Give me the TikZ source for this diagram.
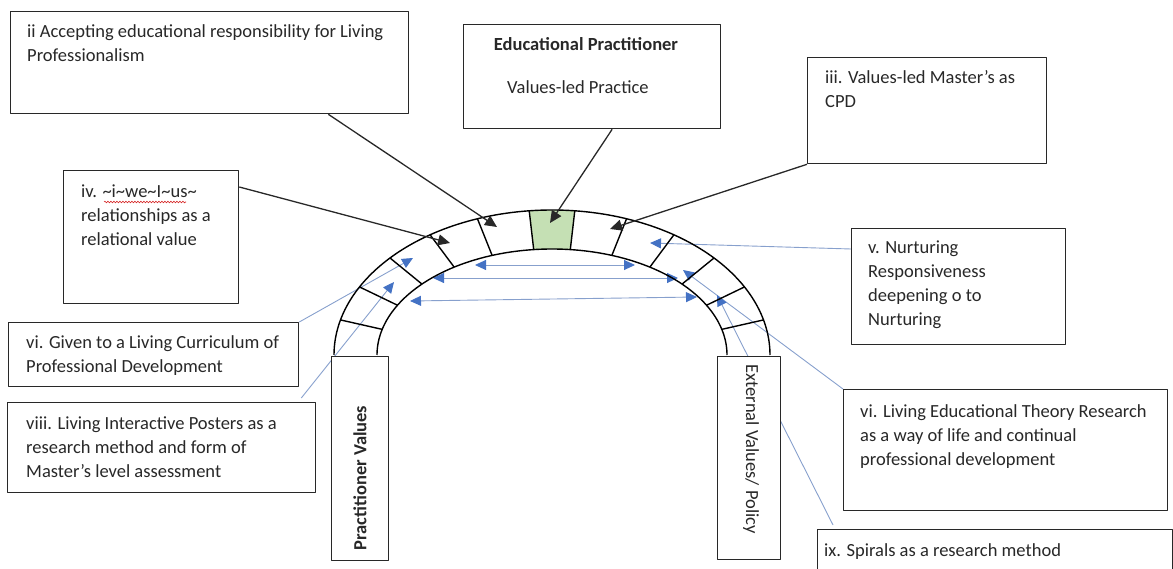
\documentclass[tikz,border=0pt]{standalone}
\usepackage{fontspec}
\setmainfont{Carlito}
\usetikzlibrary{arrows.meta,decorations.pathmorphing}
\definecolor{archgreen}{RGB}{197,224,180}
\definecolor{linkblue}{RGB}{135,160,205}
\definecolor{headblue}{RGB}{68,114,196}
\definecolor{spellred}{RGB}{215,40,40}
\definecolor{ink}{RGB}{40,40,40}
\pgfdeclarelayer{back}
\pgfsetlayers{back,main}
\newcommand\tl{\textasciitilde}

\begin{document}
\begin{tikzpicture}[x=1pt,y=-1pt,line join=round,
  box/.style={draw=ink,line width=1.3pt,fill=white,anchor=north west,inner sep=0pt},
  % multi-line texts are placed by the baseline of their last line
  txt/.style={anchor=base west,align=left,inner sep=0pt,text=ink,font=\fontsize{18.5}{24}\selectfont},
  archline/.style={draw=black,line width=1.4pt},
  link/.style={draw=ink,line width=1.3pt,-{Triangle[length=12pt,width=11pt]}},
  bluelink/.style={draw=linkblue,line width=0.9pt,-{Triangle[length=11pt,width=10pt,color=headblue]}},
  bluedouble/.style={draw=linkblue,line width=0.9pt,{Triangle[length=11pt,width=10pt,color=headblue]}-{Triangle[length=11pt,width=10pt,color=headblue]}},
  spell/.style={draw=spellred,line width=0.6pt,decorate,decoration={snake,amplitude=0.9pt,segment length=3pt}}]

\useasboundingbox (0,0) rectangle (1173,569);
\clip (0,0) rectangle (1173,569);

% ---- the arch: elliptical outer and inner curves, 13 voussoirs
\fill[archgreen] plot[domain=84:96,samples=10] ({552-218*cos(\x)},{355-145*sin(\x)})
  -- plot[domain=96:84,samples=10] ({552-175*cos(\x)},{355-106*sin(\x)}) -- cycle;
\draw[archline] plot[domain=0:180,samples=121] ({552-218*cos(\x)},{355-145*sin(\x)});
\draw[archline] plot[domain=0:180,samples=121] ({552-175*cos(\x)},{355-106*sin(\x)});
\foreach \t in {14,28,42,56,70,84,96,110,124,138,152,166}
  \draw[archline] ({552-218*cos(\t)},{355-145*sin(\t)}) -- ({552-175*cos(\t)},{355-106*sin(\t)});

% ---- text boxes
\node[box,minimum width=398pt,minimum height=102pt] (ii) at (10,11) {};
\node[box,minimum width=257pt,minimum height=104pt] (ep) at (463,24) {};
\node[box,minimum width=239pt,minimum height=106pt] (iii) at (807,57) {};
\node[box,minimum width=175pt,minimum height=133pt] (iv) at (63,170) {};
\node[box,minimum width=214pt,minimum height=116pt] (v) at (851,228) {};
\node[box,minimum width=290pt,minimum height=64pt] (vi) at (8,322) {};
\node[box,minimum width=308pt,minimum height=90pt] (viii) at (7,402) {};
\node[box,minimum width=324pt,minimum height=121pt] (let) at (843,389) {};
\node[box,minimum width=355pt,minimum height=60pt] (ix) at (817,529) {};
\node[box,minimum width=57pt,minimum height=204pt] (pv) at (331,356) {};
\node[box,minimum width=63pt,minimum height=203pt] (ev) at (717,356) {};

% ---- texts
\node[txt] (iiText) at (27,62) {ii Accepting educational responsibility for Living\\Professionalism};
\node[txt,anchor=base,font=\fontsize{18.5}{24}\selectfont\bfseries] (epTitle) at (586,51) {Educational Practitioner};
\node[txt] (epText) at (507,94) {Values-led Practice};
\node[txt] (iiiText) at (825,108) {iii. Values-led Master’s as\\CPD};
\node[txt] (ivText) at (81,246) {iv. \tl i\tl we\tl I\tl us\tl\\relationships as a\\relational value};
\node[txt] (vText) at (868,326) {v. Nurturing\\Responsiveness\\deepening o to\\Nurturing};
\node[txt] (viText) at (26,372) {vi. Given to a Living Curriculum of\\Professional Development};
\node[txt] (viiiText) at (26,477) {viii. Living Interactive Posters as a\\research method and form of\\Master’s level assessment};
\node[txt] (letText) at (860,465) {vi. Living Educational Theory Research\\as a way of life and continual\\professional development};
\node[txt] (ixText) at (824,556) {ix. Spirals as a research method};
\node[text=ink,rotate=90,font=\fontsize{18.5}{22}\selectfont\bfseries,inner sep=0pt] (pvText) at (360,478) {Practitioner Values};
\node[text=ink,rotate=-90,font=\fontsize{18.5}{22}\selectfont,inner sep=0pt] (evText) at (751,449) {External Values/ Policy};

% spell-check underline under the tilde word
\draw[spell] (104,202) -- (186,202);

% ---- arrow ends inside the voussoirs
\coordinate (tII) at (497,227);
\coordinate (tEP) at (550,223);
\coordinate (tIII) at (610,229);
\coordinate (tIV) at (450,243);
\coordinate (tV) at (650,243);
\coordinate (tLET) at (683,270);
\coordinate (tIX) at (717,295);
\coordinate (tVI) at (413,258);
\coordinate (tVIII) at (394,282);
\coordinate (hA1) at (475,265); \coordinate (hA2) at (635,265);
\coordinate (hB1) at (433,278); \coordinate (hB2) at (678,278);
\coordinate (hC1) at (410,301); \coordinate (hC2) at (697,297);

% ---- blue connectors, behind the boxes
\begin{pgfonlayer}{back}
\draw[bluelink] ([yshift=-21pt]v.north west) -- (tV);
\draw[bluelink] (let.north west) -- (tLET);
\draw[bluelink] ([xshift=16pt,yshift=4pt]ix.north west) -- (tIX);
\draw[bluelink] (vi.north east) -- (tVI);
\draw[bluelink] ([xshift=-15pt,yshift=4pt]viii.north east) -- (tVIII);
\draw[bluedouble] (hA1) -- (hA2);
\draw[bluedouble] (hB1) -- (hB2);
\draw[bluedouble] (hC1) -- (hC2);
\end{pgfonlayer}

% ---- black connectors
\draw[link] ([xshift=-81pt]ii.south east) -- (tII);
\draw[link] ([xshift=20pt]ep.south) -- (tEP);
\draw[link] (iii.south west) -- (tIII);
\draw[link] ([yshift=-17pt]iv.north east) -- (tIV);
\end{tikzpicture}
\end{document}
